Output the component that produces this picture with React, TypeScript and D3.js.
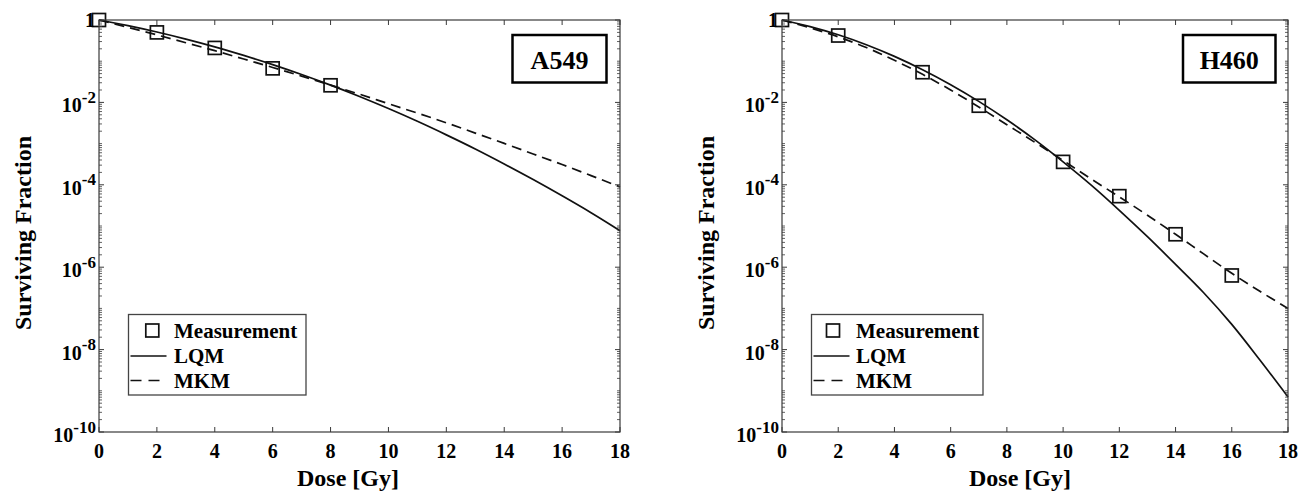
import React from "react";
import * as d3 from "d3";

// ---- Data ----
const doses = [0, 1, 2, 3, 4, 5, 6, 7, 8, 9, 10, 11, 12, 13, 14, 15, 16, 17, 18];

const a549LQM = [1, 0.729, 0.511, 0.344, 0.223, 0.138, 0.0827, 0.0475, 0.0262, 0.0139, 0.00708, 0.00347, 0.00163, 7.4e-4, 3.2e-4, 1.34e-4, 5.4e-5, 2.1e-5, 7.7e-6];
const a549MKM = [1, 0.663, 0.435, 0.281, 0.18, 0.113, 0.0705, 0.0434, 0.0263, 0.0158, 0.0093, 0.0055, 0.0032, 0.0018, 0.00101, 5.6e-4, 3.1e-4, 1.67e-4, 8.9e-5];
const a549MeasDose = [0, 2, 4, 6, 8];
const a549MeasSF = [1, 0.5, 0.21, 0.067, 0.026];

const h460LQM = [1, 0.693, 0.438, 0.251, 0.131, 0.0622, 0.0269, 0.0106, 0.00378, 0.00123, 3.6e-4, 9.8e-5, 2.4e-5, 5.5e-6, 1.17e-6, 2.4e-7, 4.1e-8, 5.6e-9, 7.1e-10];
const h460MKM = [1, 0.646, 0.389, 0.214, 0.105, 0.0479, 0.02, 0.00776, 0.00288, 0.00107, 3.9e-4, 1.38e-4, 5.1e-5, 1.82e-5, 6.3e-6, 2.1e-6, 7.1e-7, 2.6e-7, 1.0e-7];
const h460MeasDose = [0, 2, 5, 7, 10, 12, 14, 16];
const h460MeasSF = [1, 0.42, 0.054, 0.0083, 3.6e-4, 5.3e-5, 6.3e-6, 6.3e-7];

const xTicks = [0, 2, 4, 6, 8, 10, 12, 14, 16, 18];
const yLabelExps = [0, -2, -4, -6, -8, -10];
const legendLabels = ["Measurement", "LQM", "MKM"];

const FONT = "'Liberation Serif', 'Times New Roman', serif";
const AX = "#3a3a3a";

type PanelProps = {
  x0: number; x1: number; y0: number; y1: number;
  lqm: number[]; mkm: number[]; measD: number[]; measS: number[];
  label: string; boxX: number; boxW: number;
  legX: number; legW: number; legLineX0: number; legMarkX: number; legTextX: number;
  xTitleX: number; yTitleX: number;
};

function Panel(p: PanelProps) {
  const x = d3.scaleLinear().domain([0, 18]).range([p.x0, p.x1]);
  const y = d3.scaleLog().domain([1e-10, 1]).range([p.y1, p.y0]);
  const line = d3.line<number>()
    .x((_, i) => x(doses[i]))
    .y((v) => y(v))
    .curve(d3.curveMonotoneX);

  const minor: number[] = [];
  for (let k = -10; k < 0; k++) {
    for (let m = 2; m <= 9; m++) minor.push(m * Math.pow(10, k));
    if (k % 2 !== 0) minor.push(Math.pow(10, k));
  }
  const major = yLabelExps.map((e) => Math.pow(10, e));
  const ms = 13;
  const legTop = 314.5;
  const rowY = [330.5, 356, 380.5];
  const baseY = [337.5, 363, 387.5];

  return (
    <g>
      {/* curves */}
      <path d={line(p.lqm) || ""} fill="none" stroke="#111" strokeWidth={1.7} />
      <path d={line(p.mkm) || ""} fill="none" stroke="#111" strokeWidth={1.7} strokeDasharray="10,6" />
      {p.measD.map((d, i) => (
        <rect key={i} x={x(d) - ms / 2} y={y(p.measS[i]) - ms / 2} width={ms} height={ms}
          fill="none" stroke="#111" strokeWidth={1.7} />
      ))}
      {/* axes box */}
      <rect x={p.x0} y={p.y0} width={p.x1 - p.x0} height={p.y1 - p.y0} fill="none" stroke={AX} strokeWidth={1.2} />
      {xTicks.map((t) => (
        <g key={"xt" + t}>
          <line x1={x(t)} x2={x(t)} y1={p.y1} y2={p.y1 - 5} stroke={AX} strokeWidth={1} />
          <line x1={x(t)} x2={x(t)} y1={p.y0} y2={p.y0 + 5} stroke={AX} strokeWidth={1} />
          <text x={x(t)} y={458} textAnchor="middle" fontFamily={FONT} fontWeight="bold" fontSize={20} fill="#000">{t}</text>
        </g>
      ))}
      {major.map((v, i) => (
        <g key={"ym" + i}>
          <line x1={p.x0} x2={p.x0 + 5} y1={y(v)} y2={y(v)} stroke={AX} strokeWidth={1} />
          <line x1={p.x1} x2={p.x1 - 5} y1={y(v)} y2={y(v)} stroke={AX} strokeWidth={1} />
        </g>
      ))}
      {minor.map((v, i) => (
        <g key={"yn" + i}>
          <line x1={p.x0} x2={p.x0 + 3} y1={y(v)} y2={y(v)} stroke={AX} strokeWidth={0.8} />
          <line x1={p.x1} x2={p.x1 - 3} y1={y(v)} y2={y(v)} stroke={AX} strokeWidth={0.8} />
        </g>
      ))}
      {yLabelExps.map((e) => (
        e === 0 ? (
          <text key={"yl" + e} x={p.x0 - 4} y={y(1) + 7} textAnchor="end" fontFamily={FONT} fontWeight="bold" fontSize={20} fill="#000">1</text>
        ) : (
          <text key={"yl" + e} x={p.x0 - 3} y={y(Math.pow(10, e)) + 10} textAnchor="end" fontFamily={FONT} fontWeight="bold" fontSize={20} fill="#000">
            10<tspan dy={-9.5} fontSize={17}>{String(e)}</tspan>
          </text>
        )
      ))}
      {/* axis titles */}
      <text x={p.xTitleX} y={486} textAnchor="middle" fontFamily={FONT} fontWeight="bold" fontSize={24} fill="#000">Dose [Gy]</text>
      <text transform={`translate(${p.yTitleX},233) rotate(-90)`} textAnchor="middle" fontFamily={FONT} fontWeight="bold" fontSize={24} fill="#000">Surviving Fraction</text>
      {/* cell label box */}
      <rect x={p.boxX} y={35} width={p.boxW} height={47.5} fill="#fff" stroke="#000" strokeWidth={2.5} />
      <text x={p.boxX + p.boxW / 2} y={68.5} textAnchor="middle" fontFamily={FONT} fontWeight="bold" fontSize={26} fill="#000">{p.label}</text>
      {/* legend */}
      <rect x={p.legX} y={legTop} width={p.legW} height={80.5} fill="#fff" stroke="#444" strokeWidth={1.3} />
      <rect x={p.legMarkX - ms / 2} y={rowY[0] - ms / 2} width={ms} height={ms} fill="none" stroke="#111" strokeWidth={1.7} />
      <line x1={p.legLineX0} x2={p.legLineX0 + 36} y1={rowY[1]} y2={rowY[1]} stroke="#111" strokeWidth={1.7} />
      <line x1={p.legLineX0} x2={p.legLineX0 + 36} y1={rowY[2]} y2={rowY[2]} stroke="#111" strokeWidth={1.7} strokeDasharray="11,7" />
      {legendLabels.map((l, i) => (
        <text key={l} x={p.legTextX} y={baseY[i]} fontFamily={FONT} fontWeight="bold" fontSize={21} fill="#000">{l}</text>
      ))}
    </g>
  );
}

export default function App() {
  return (
    <svg width={1311} height={502} style={{ position: "absolute", left: 0, top: 0, background: "#fff" }}>
      <Panel x0={99} x1={620} y0={20} y1={432} lqm={a549LQM} mkm={a549MKM} measD={a549MeasDose} measS={a549MeasSF}
        label="A549" boxX={512.5} boxW={94}
        legX={128.5} legW={177.5} legLineX0={130.5} legMarkX={152.3} legTextX={174}
        xTitleX={348} yTitleX={31} />
      <Panel x0={782} x1={1288} y0={20} y1={432} lqm={h460LQM} mkm={h460MKM} measD={h460MeasDose} measS={h460MeasSF}
        label="H460" boxX={1183} boxW={92.5}
        legX={811.5} legW={171.5} legLineX0={813.5} legMarkX={833} legTextX={856}
        xTitleX={1020} yTitleX={714} />
    </svg>
  );
}
